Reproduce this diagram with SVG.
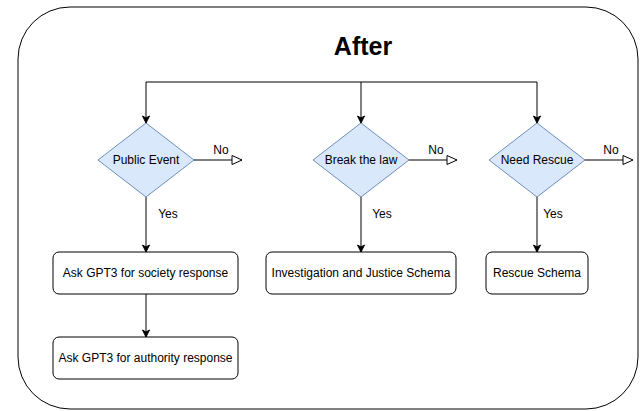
<svg xmlns="http://www.w3.org/2000/svg" width="644" height="411" viewBox="0 0 644 411">
<defs>
<style>
.lbl{font-family:"Liberation Sans",Arial,sans-serif;font-size:12px;fill:#000}
.dia{fill:#dae8fc;stroke:#6c8ebf;stroke-width:1}
.box{fill:#fff;stroke:#000;stroke-width:1}
.ln{fill:none;stroke:#000;stroke-width:1}
</style>
<marker id="ah" markerWidth="10" markerHeight="10" refX="8" refY="5" orient="auto" markerUnits="userSpaceOnUse">
<path d="M1,1.5 L8,5 L1,8.5 L3,5 Z" fill="#000" stroke="#000"/>
</marker>
<marker id="oh" markerWidth="14" markerHeight="14" refX="11" refY="7" orient="auto" markerUnits="userSpaceOnUse">
<path d="M1,2.5 L11,7 L1,11.5 Z" fill="#fff" stroke="#000"/>
</marker>
</defs>
<rect id="frame" x="18" y="7" width="620" height="402" rx="52" ry="52" fill="#fff" stroke="#000" stroke-width="1"/>
<text x="363" y="55" text-anchor="middle" font-family="'Liberation Sans',Arial,sans-serif" font-size="25" font-weight="bold">After</text>
<g id="connectors">
<path class="ln" d="M146,82 L537,82"/>
<path class="ln" d="M146,82 L146,123" marker-end="url(#ah)"/>
<path class="ln" d="M537,82 L537,123" marker-end="url(#ah)"/>
<path class="ln" d="M361,82 L361,123" marker-end="url(#ah)"/>
<path class="ln" d="M194,160 L242,160" marker-end="url(#oh)"/>
<path class="ln" d="M409,160 L457,160" marker-end="url(#oh)"/>
<path class="ln" d="M585,160 L633,160" marker-end="url(#oh)"/>
<path class="ln" d="M146,197 L146,252" marker-end="url(#ah)"/>
<path class="ln" d="M361,197 L361,252" marker-end="url(#ah)"/>
<path class="ln" d="M537,197 L537,252" marker-end="url(#ah)"/>
<path class="ln" d="M146,294 L146,337" marker-end="url(#ah)"/>
<text class="lbl" x="221" y="154" text-anchor="middle">No</text>
<text class="lbl" x="436" y="154" text-anchor="middle">No</text>
<text class="lbl" x="611" y="154" text-anchor="middle">No</text>
<text class="lbl" x="168" y="218" text-anchor="middle">Yes</text>
<text class="lbl" x="382" y="218" text-anchor="middle">Yes</text>
<text class="lbl" x="553" y="218" text-anchor="middle">Yes</text>
</g>
<g id="public-event">
<polygon class="dia" points="146,123 194,160 146,197 98,160"/>
<text class="lbl" x="146" y="164" text-anchor="middle">Public Event</text>
</g>
<g id="break-law">
<polygon class="dia" points="361,123 409,160 361,197 313,160"/>
<text class="lbl" x="361" y="164" text-anchor="middle">Break the law</text>
</g>
<g id="need-rescue">
<polygon class="dia" points="537,123 585,160 537,197 489,160"/>
<text class="lbl" x="537" y="164" text-anchor="middle">Need Rescue</text>
</g>
<g id="society">
<rect class="box" x="53" y="252" width="185" height="42" rx="6"/>
<text class="lbl" x="145.5" y="277" text-anchor="middle">Ask GPT3 for society response</text>
</g>
<g id="authority">
<rect class="box" x="53" y="337" width="185" height="42" rx="6"/>
<text class="lbl" x="145.5" y="362" text-anchor="middle">Ask GPT3 for authority response</text>
</g>
<g id="justice">
<rect class="box" x="266" y="252" width="190" height="42" rx="6"/>
<text class="lbl" x="361" y="277" text-anchor="middle">Investigation and Justice Schema</text>
</g>
<g id="rescue">
<rect class="box" x="486" y="252" width="102" height="42" rx="6"/>
<text class="lbl" x="537" y="277" text-anchor="middle">Rescue Schema</text>
</g>
</svg>
